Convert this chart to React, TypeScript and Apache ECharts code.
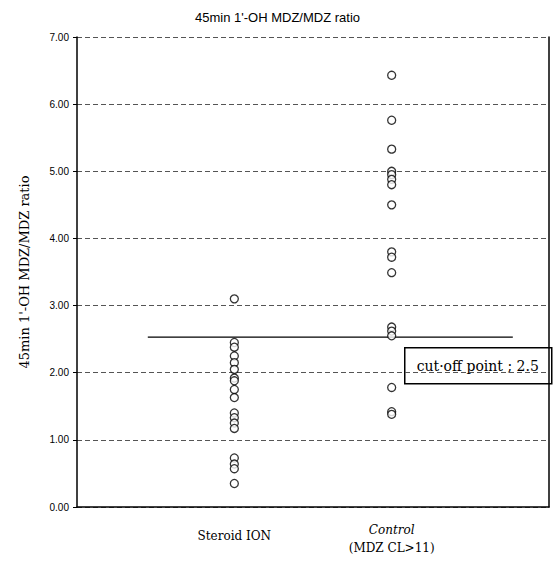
import React, { useEffect, useRef } from "react";
import * as echarts from "echarts";

const titleText = "45min 1'-OH MDZ/MDZ ratio";
const yAxisName = "45min 1'-OH MDZ/MDZ ratio";
const groupPositions = [1, 2];
const steroidION = [3.10, 2.45, 2.38, 2.25, 2.15, 2.05, 1.92, 1.88, 1.75, 1.63, 1.40, 1.33, 1.25, 1.17, 0.73, 0.64, 0.57, 0.35];
const control = [6.43, 5.76, 5.33, 5.00, 4.95, 4.88, 4.80, 4.50, 3.80, 3.72, 3.49, 2.68, 2.62, 2.55, 1.78, 1.42, 1.38];
const cutoffValue = 2.53;
const cutoffSpan = [0.45, 2.77];
const cutoffLabel = "cut·off point ; 2.5";

const serif = "DejaVu Serif";

export default function App() {
  const ref = useRef<HTMLDivElement>(null);
  useEffect(() => {
    if (!ref.current) return;
    const chart = echarts.init(ref.current, null, { renderer: "svg" });
    const scatterStyle = {
      color: "#ffffff",
      borderColor: "#000000",
      borderWidth: 1.3,
    };
    chart.setOption({
      animation: false,
      backgroundColor: "#ffffff",
      title: {
        text: titleText,
        left: 190,
        top: 6,
        textStyle: { fontFamily: "Liberation Sans", fontSize: 13, fontWeight: "normal", color: "#000" },
      },
      grid: { left: 77, right: 8, top: 37, bottom: 55 },
      xAxis: {
        type: "value",
        min: 0,
        max: 3,
        interval: 1,
        splitLine: { show: false },
        axisLine: { show: true, lineStyle: { color: "#000", width: 1.5 } },
        axisTick: { show: false },
        axisLabel: {
          margin: 14,
          verticalAlign: "top",
          formatter: (v: number) => {
            if (v === groupPositions[0]) return "{s|Steroid ION}";
            if (v === groupPositions[1]) return "{i|Control}\n{n|(MDZ CL>11)}";
            return "";
          },
          rich: {
            s: { fontFamily: serif, fontSize: 12, color: "#000", padding: [12, 0, 0, 0], lineHeight: 18 },
            i: { fontFamily: serif, fontSize: 12, fontStyle: "italic", color: "#000", lineHeight: 18 },
            n: { fontFamily: serif, fontSize: 12, color: "#000", lineHeight: 18 },
          },
        },
      },
      yAxis: [
        {
          type: "value",
          min: 0,
          max: 7,
          interval: 1,
          name: yAxisName,
          nameLocation: "middle",
          nameGap: 46,
          nameTextStyle: { fontFamily: serif, fontSize: 13, color: "#000" },
          axisLine: { show: true, lineStyle: { color: "#000", width: 1.5 } },
          axisTick: { show: true, length: 4, lineStyle: { color: "#000" } },
          axisLabel: {
            formatter: (v: number) => v.toFixed(2),
            fontFamily: "Liberation Sans",
            fontSize: 10,
            color: "#000",
            margin: 8,
          },
          splitLine: { show: true, lineStyle: { color: "#555", type: [5, 3], width: 1 } },
        },
        {
          type: "value",
          min: 0,
          max: 7,
          position: "right",
          axisLine: { show: true, lineStyle: { color: "#000", width: 1.5 } },
          axisTick: { show: false },
          axisLabel: { show: false },
          splitLine: { show: false },
        },
      ],
      series: [
        {
          type: "scatter",
          symbol: "circle",
          symbolSize: 8,
          itemStyle: scatterStyle,
          data: steroidION.map((v) => [groupPositions[0], v]),
        },
        {
          type: "scatter",
          symbol: "circle",
          symbolSize: 8,
          itemStyle: scatterStyle,
          data: control.map((v) => [groupPositions[1], v]),
        },
        {
          type: "line",
          symbol: "none",
          lineStyle: { color: "#000", width: 1.3 },
          data: cutoffSpan.map((x) => [x, cutoffValue]),
          z: 1,
        },
      ],
      graphic: [
        {
          type: "group",
          left: 404,
          top: 347,
          children: [
            {
              type: "rect",
              shape: { x: 0, y: 0, width: 147, height: 36 },
              style: { fill: "#fff", stroke: "#000", lineWidth: 1.5 },
            },
            {
              type: "text",
              x: 73,
              y: 18,
              style: {
                text: cutoffLabel,
                fontFamily: serif,
                fontSize: 14,
                fill: "#000",
                align: "center",
                verticalAlign: "middle",
              },
            },
          ],
        },
      ],
    });
    return () => chart.dispose();
  }, []);
  return (
    <div
      ref={ref}
      style={{ position: "absolute", left: 0, top: 0, width: 557, height: 562 }}
    />
  );
}
